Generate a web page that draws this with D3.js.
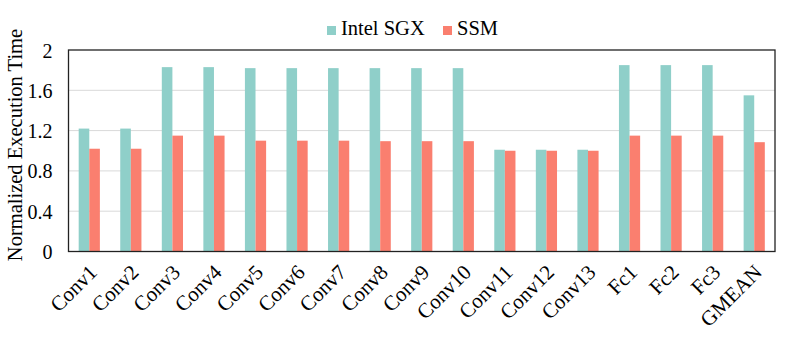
<!DOCTYPE html>
<html>
<head>
<meta charset="utf-8">
<script src="https://cdn.jsdelivr.net/npm/d3@7"></script>
<style>
  body { margin: 0; background: #fff; }
  svg text { font-family: "Liberation Serif", "Times New Roman", serif; fill: #000; }
</style>
</head>
<body>
<script>
// chart data
const categories = ["Conv1", "Conv2", "Conv3", "Conv4", "Conv5", "Conv6", "Conv7", "Conv8", "Conv9",
    "Conv10", "Conv11", "Conv12", "Conv13", "Fc1", "Fc2", "Fc3", "GMEAN"]
const seriesNames = ["Intel SGX", "SSM"]
const sgxValues = [1.22, 1.22, 1.83, 1.83, 1.82, 1.82, 1.82, 1.82, 1.82, 1.82, 1.01, 1.01, 1.01, 1.85, 1.85, 1.85, 1.55]
const ssmValues = [1.02, 1.02, 1.15, 1.15, 1.10, 1.10, 1.10, 1.095, 1.095, 1.095, 1.00, 1.00, 1.00, 1.15, 1.15, 1.15, 1.085]
const yTicks = [0, 0.4, 0.8, 1.2, 1.6, 2]

const colors = ["#8fcfc9", "#fa7f6f"]
const serif = '"Liberation Serif", "Times New Roman", serif'
const width = 789, height = 350
const margin = {top: 50, right: 14, bottom: 98.5, left: 68.5}
const innerW = width - margin.left - margin.right
const innerH = height - margin.top - margin.bottom

const svg = d3.select("body").append("svg")
    .attr("width", width)
    .attr("height", height)

const g = svg.append("g").attr("transform", `translate(${margin.left},${margin.top})`)

const x = d3.scaleBand().domain(categories).range([0, innerW]).paddingInner(0.49).paddingOuter(0.245)
const x1 = d3.scaleBand().domain(seriesNames).range([0, x.bandwidth()])
const y = d3.scaleLinear().domain([0, 2]).range([innerH, 0])

// grid
g.selectAll("line.grid")
    .data(yTicks.filter(t => t > 0 && t < 2))
    .enter()
    .append("line")
    .attr("class", "grid")
    .attr("x1", 0)
    .attr("x2", innerW)
    .attr("y1", d => y(d))
    .attr("y2", d => y(d))
    .attr("stroke", "#d9d9d9")
    .attr("stroke-width", 1)

// bars
const rows = categories.map((c, i) => ({cat: c, vals: [sgxValues[i], ssmValues[i]]}))
const groups = g.selectAll("g.cat")
    .data(rows)
    .enter()
    .append("g")
    .attr("class", "cat")
    .attr("transform", d => `translate(${x(d.cat)},0)`)

groups.selectAll("rect")
    .data(d => d.vals.map((v, k) => ({name: seriesNames[k], v: v, k: k})))
    .enter()
    .append("rect")
    .attr("x", d => x1(d.name))
    .attr("y", d => y(d.v))
    .attr("width", x1.bandwidth())
    .attr("height", d => innerH - y(d.v))
    .attr("fill", d => colors[d.k])

// frame
g.append("rect")
    .attr("x", 0).attr("y", 0)
    .attr("width", innerW).attr("height", innerH)
    .attr("fill", "none")
    .attr("stroke", "#222")
    .attr("stroke-width", 1.3)

// y axis
const yAxis = g.append("g")
    .call(d3.axisLeft(y).tickValues(yTicks).tickSize(0).tickPadding(16).tickFormat(d3.format("")))
yAxis.attr("font-family", serif)
yAxis.select(".domain").remove()
yAxis.selectAll("text").style("font-size", "20px").attr("dy", "0.35em")

// x axis labels
const xAxis = g.append("g")
    .attr("transform", `translate(0,${innerH})`)
    .call(d3.axisBottom(x).tickSize(0).tickPadding(0))
xAxis.attr("font-family", serif)
xAxis.select(".domain").remove()
xAxis.selectAll("text")
    .style("font-size", "21px")
    .attr("text-anchor", "end")
    .attr("dy", "0")
    .attr("transform", "translate(9,22) rotate(-45)")

// y title
svg.append("text")
    .attr("transform", `translate(22,${145}) rotate(-90)`)
    .attr("text-anchor", "middle")
    .style("font-size", "20.5px")
    .style("font-family", serif)
    .text("Normalized Execution Time")

// legend
const legend = svg.append("g")
const legendX = [327, 443]
seriesNames.forEach((name, i) => {
    legend.append("rect")
        .attr("x", legendX[i]).attr("y", 26)
        .attr("width", 9).attr("height", 9)
        .attr("fill", colors[i])
    legend.append("text")
        .attr("x", legendX[i] + 14).attr("y", 35)
        .style("font-size", "20.5px")
        .style("font-family", serif)
        .text(name)
})
</script>
</body>
</html>
